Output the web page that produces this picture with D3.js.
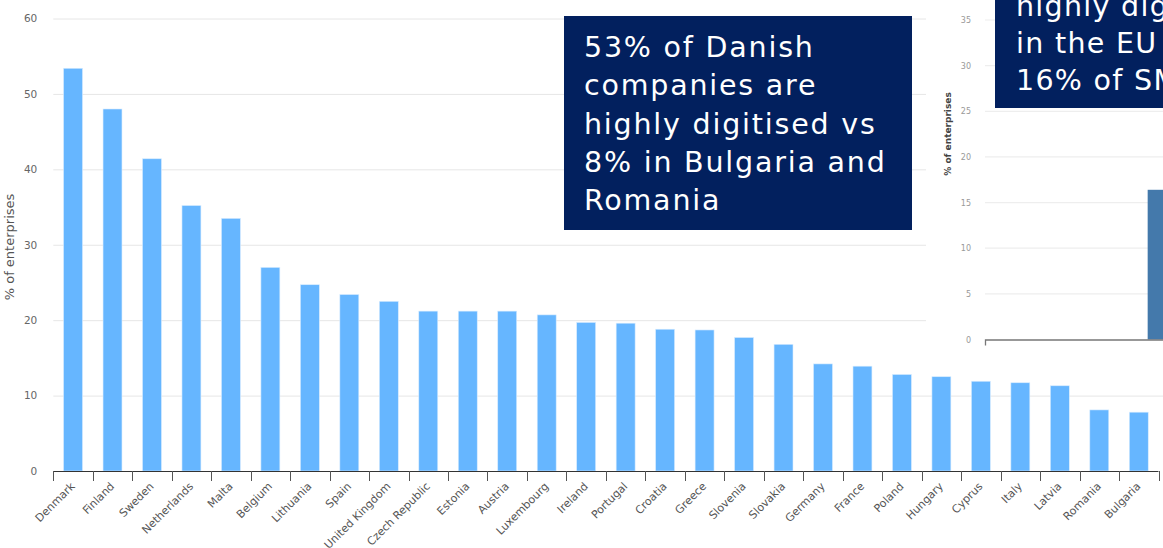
<!DOCTYPE html>
<html>
<head>
<meta charset="utf-8">
<script src="https://cdn.jsdelivr.net/npm/d3@7"></script>
<style>
    body { margin: 0; background: #fff; }
    svg { display: block; }
    text { font-family: "DejaVu Sans", Verdana, sans-serif; }
</style>
</head>
<body>
<svg id="chart" width="1163" height="548"></svg>
<script>
const countries = ["Denmark", "Finland", "Sweden", "Netherlands", "Malta", "Belgium", "Lithuania", "Spain",
    "United Kingdom", "Czech Republic", "Estonia", "Austria", "Luxembourg", "Ireland", "Portugal", "Croatia",
    "Greece", "Slovenia", "Slovakia", "Germany", "France", "Poland", "Hungary", "Cyprus", "Italy", "Latvia",
    "Romania", "Bulgaria"];
const shares = [53.4, 48.0, 41.4, 35.2, 33.5, 27.0, 24.7, 23.4, 22.5, 21.2, 21.2, 21.2, 20.7, 19.7, 19.6,
    18.8, 18.7, 17.7, 16.8, 14.2, 13.9, 12.8, 12.5, 11.9, 11.7, 11.3, 8.1, 7.8];
const yTicks = [0, 10, 20, 30, 40, 50, 60];

// partly visible inset chart on the right
const insetCategories = ["SMEs"];
const insetShares = [16.4];
const insetTicks = [0, 5, 10, 15, 20, 25, 30, 35];

const mainNote = ["53% of Danish", "companies are", "highly digitised vs", "8% in Bulgaria and", "Romania"];
const insetNote = ["highly digitised", "in the EU vs", "16% of SMEs"];

const svg = d3.select("#chart");
const navy = "#02205e";

// ---- main chart ----
const xScale = d3.scaleBand()
        .domain(countries)
        .range([53.3, 1158.5])
        .paddingInner(0.52)
        .paddingOuter(0.26);

const yScale = d3.scaleLinear()
        .domain([0, 60])
        .range([471, 18.5]);

const main = svg.append("g").attr("class", "main");

main.append("g")
        .attr("class", "grid")
        .selectAll("line")
        .data(yTicks.filter(d => d > 0))
        .enter().append("line")
        .attr("x1", 53.3)
        .attr("x2", 1163)
        .attr("y1", d => yScale(d) + 0.5)
        .attr("y2", d => yScale(d) + 0.5)
        .attr("stroke", "#e6e6e6");

const axisY = main.append("g")
        .attr("transform", "translate(53.3,0)")
        .call(d3.axisLeft(yScale).tickValues(yTicks).tickSize(0).tickPadding(16));
axisY.select(".domain").remove();
axisY.selectAll("text")
        .attr("font-family", "DejaVu Sans")
        .attr("font-size", "10.5px")
        .attr("fill", "#666");

main.append("text")
        .attr("transform", "translate(14,247) rotate(-90)")
        .attr("text-anchor", "middle")
        .attr("font-size", "13px")
        .attr("fill", "#555")
        .text("% of enterprises");

main.append("g")
        .attr("class", "bars")
        .selectAll("rect")
        .data(countries)
        .enter().append("rect")
        .attr("x", d => xScale(d))
        .attr("width", xScale.bandwidth())
        .attr("y", (d, i) => yScale(shares[i]))
        .attr("height", (d, i) => yScale(0) - yScale(shares[i]))
        .attr("fill", "#66b6ff")
        .attr("stroke", "#d8ecff")
        .attr("stroke-width", 0.6);

// x axis line plus ticks placed between the categories
const step = xScale.step();
const boundaries = countries.map(d => xScale(d) - step * xScale.paddingInner() / 2);
boundaries.push(xScale.range()[1]);

const axisX = main.append("g").attr("class", "x-axis");
axisX.append("line")
        .attr("x1", xScale.range()[0])
        .attr("x2", xScale.range()[1])
        .attr("y1", yScale(0) + 0.5)
        .attr("y2", yScale(0) + 0.5)
        .attr("stroke", "#333");
axisX.selectAll(".tick")
        .data(boundaries)
        .enter().append("line")
        .attr("class", "tick")
        .attr("x1", d => Math.round(d) + 0.5)
        .attr("x2", d => Math.round(d) + 0.5)
        .attr("y1", yScale(0))
        .attr("y2", yScale(0) + 10)
        .attr("stroke", "#555");
axisX.selectAll(".label")
        .data(countries)
        .enter().append("text")
        .attr("class", "label")
        .attr("transform", d => `translate(${xScale(d) + xScale.bandwidth() / 2 + 2.5},487) rotate(-45)`)
        .attr("text-anchor", "end")
        .attr("font-size", "11px")
        .attr("fill", "#555")
        .text(d => d);

// note box on the main chart
const note = main.append("g").attr("transform", "translate(564,16)");
note.append("rect")
        .attr("width", 348)
        .attr("height", 214)
        .attr("fill", navy);
note.selectAll("text")
        .data(mainNote)
        .enter().append("text")
        .attr("x", 20)
        .attr("y", (d, i) => 40.7 + i * 38.4)
        .attr("font-size", "28.5px")
        .attr("letter-spacing", "1.8px")
        .attr("fill", "#fff")
        .text(d => d);

// ---- inset chart (cut off at the right edge) ----
const inset = svg.append("g").attr("class", "inset");
inset.append("rect")
        .attr("x", 926)
        .attr("y", 0)
        .attr("width", 237)
        .attr("height", 350)
        .attr("fill", "#fff");

const insetX = d3.scaleBand()
        .domain(insetCategories)
        .range([985, 1351])
        .padding(0.8);

const insetY = d3.scaleLinear()
        .domain([0, 35])
        .range([339.5, 20]);

inset.append("g")
        .selectAll("line")
        .data(insetTicks.filter(d => d > 0))
        .enter().append("line")
        .attr("x1", 985)
        .attr("x2", 1163)
        .attr("y1", d => insetY(d))
        .attr("y2", d => insetY(d))
        .attr("stroke", "#eeeeee")
        .attr("stroke-width", 1.2);

const insetAxisY = inset.append("g")
        .attr("transform", "translate(985,0)")
        .call(d3.axisLeft(insetY).tickValues(insetTicks).tickSize(0).tickPadding(14));
insetAxisY.select(".domain").remove();
insetAxisY.selectAll("text")
        .attr("font-family", "DejaVu Sans")
        .attr("font-size", "8px")
        .attr("fill", "#999");

inset.append("text")
        .attr("transform", "translate(951,134) rotate(-90)")
        .attr("text-anchor", "middle")
        .attr("font-size", "9px")
        .attr("font-weight", "bold")
        .attr("fill", "#444")
        .text("% of enterprises");

inset.selectAll(".bar")
        .data(insetCategories)
        .enter().append("rect")
        .attr("class", "bar")
        .attr("x", d => insetX(d))
        .attr("width", insetX.bandwidth())
        .attr("y", (d, i) => insetY(insetShares[i]))
        .attr("height", (d, i) => insetY(0) - insetY(insetShares[i]))
        .attr("fill", "#4479ab");

inset.append("path")
        .attr("d", `M985.5,${insetY(0) + 6}V${insetY(0) + 0.5}H1163`)
        .attr("fill", "none")
        .attr("stroke", "#777")
        .attr("stroke-width", 1.3);

const insetBox = inset.append("g").attr("transform", "translate(995,0)");
insetBox.append("rect")
        .attr("width", 168)
        .attr("height", 108)
        .attr("fill", navy);
insetBox.selectAll("text")
        .data(insetNote)
        .enter().append("text")
        .attr("x", 21)
        .attr("y", (d, i) => 16 + i * 37)
        .attr("font-size", "28.5px")
        .attr("letter-spacing", "1.3px")
        .attr("fill", "#fff")
        .text(d => d);
</script>
</body>
</html>
